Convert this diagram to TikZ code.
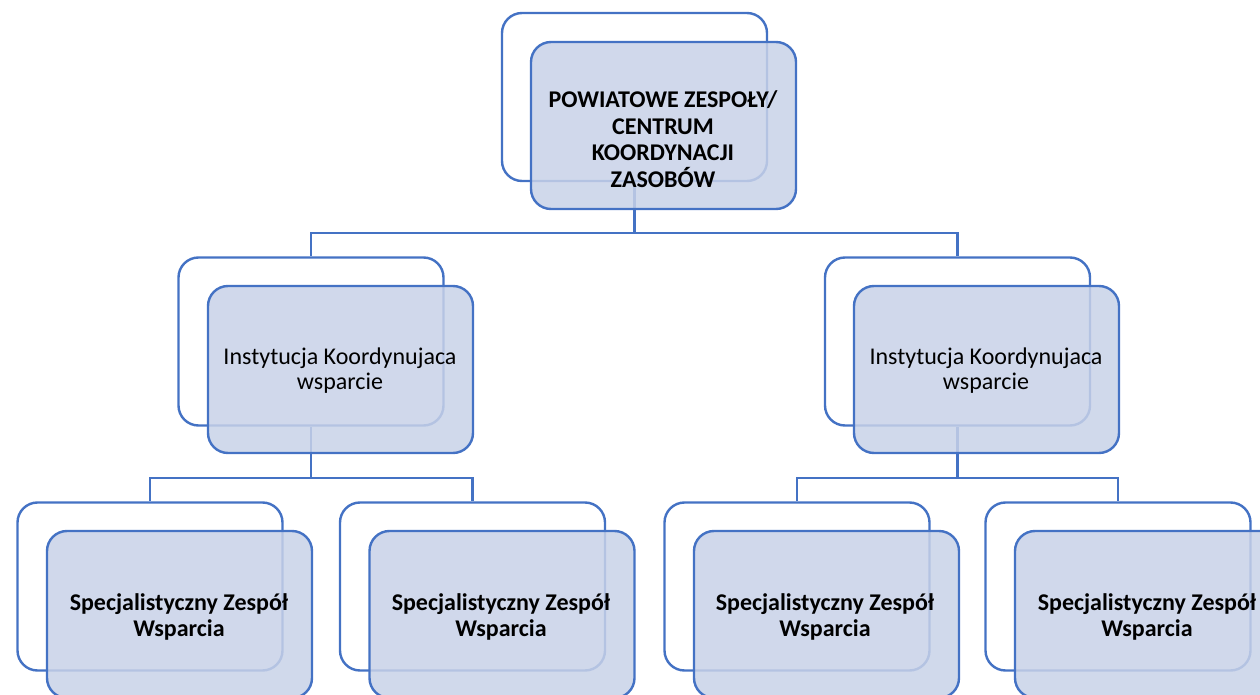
\documentclass[tikz,border=0pt]{standalone}
\usepackage{fontspec}
\setmainfont{Carlito}
\usetikzlibrary{calc}
\definecolor{edgeblue}{RGB}{68,114,196}
\definecolor{frontfill}{RGB}{200,210,232}
\tikzset{
  backbox/.style={draw=edgeblue, line width=1.8pt, fill=white, rounded corners=15pt,
    minimum width=198.75pt, minimum height=126pt, inner sep=0pt},
  frontbox/.style={draw=edgeblue, line width=1.8pt, fill=frontfill, fill opacity=0.85, text opacity=1,
    rounded corners=15pt, minimum width=198.75pt, minimum height=125.25pt, inner sep=0pt},
  conn/.style={draw=edgeblue, line width=1.8pt},
  lbl/.style={align=center, inner sep=0pt, text=black},
}
\begin{document}
\begin{tikzpicture}[x=0.75pt, y=-0.75pt]
\useasboundingbox (0,0) rectangle (1260,695);
% back boxes
\node[backbox] (tb) at (634.5,97) {};
\node[backbox] (mlb) at (311,341.5) {};
\node[backbox] (mrb) at (957.5,341.5) {};
\node[backbox] (b1b) at (150,586.5) {};
\node[backbox] (b2b) at (472.5,586.5) {};
\node[backbox] (b3b) at (797,586.5) {};
\node[backbox] (b4b) at (1118,586.5) {};
% junctions
\coordinate (j0) at (634.5,233);
\coordinate (j1) at (311,478);
\coordinate (j2) at (957.5,478);
% connectors
\draw[conn] (tb.south) -- (j0);
\draw[conn] (j0) -| (mlb.north);
\draw[conn] (j0) -| (mrb.north);
\draw[conn] (mlb.south) -- (j1);
\draw[conn] (j1) -| (b1b.north);
\draw[conn] (j1) -| (b2b.north);
\draw[conn] (mrb.south) -- (j2);
\draw[conn] (j2) -| (b3b.north);
\draw[conn] (j2) -| (b4b.north);
% front boxes
\node[frontbox] (tf) at (663.5,125.5) {};
\node[frontbox] (mlf) at (340.5,369.5) {};
\node[frontbox] (mrf) at (986.5,369.5) {};
\node[frontbox] (b1f) at (179.5,614.5) {};
\node[frontbox] (b2f) at (502,614.5) {};
\node[frontbox] (b3f) at (826.5,614.5) {};
\node[frontbox] (b4f) at (1147.5,614.5) {};
% labels
\node[lbl, font=\fontsize{18}{20}\selectfont\bfseries] (tt) at (663,139) {POWIATOWE ZESPOŁY/\\CENTRUM\\KOORDYNACJI\\ZASOBÓW};
\node[lbl, font=\fontsize{18}{18.75}\selectfont] (mlt) at (340,371) {Instytucja Koordynujaca\\wsparcie};
\node[lbl, font=\fontsize{18}{18.75}\selectfont] (mrt) at (986,371) {Instytucja Koordynujaca\\wsparcie};
\node[lbl, font=\fontsize{18}{20}\selectfont\bfseries] (b1t) at (179,617) {Specjalistyczny Zespół\\Wsparcia};
\node[lbl, font=\fontsize{18}{20}\selectfont\bfseries] (b2t) at (501,617) {Specjalistyczny Zespół\\Wsparcia};
\node[lbl, font=\fontsize{18}{20}\selectfont\bfseries] (b3t) at (825,617) {Specjalistyczny Zespół\\Wsparcia};
\node[lbl, font=\fontsize{18}{20}\selectfont\bfseries] (b4t) at (1147,617) {Specjalistyczny Zespół\\Wsparcia};
\end{tikzpicture}
\end{document}
